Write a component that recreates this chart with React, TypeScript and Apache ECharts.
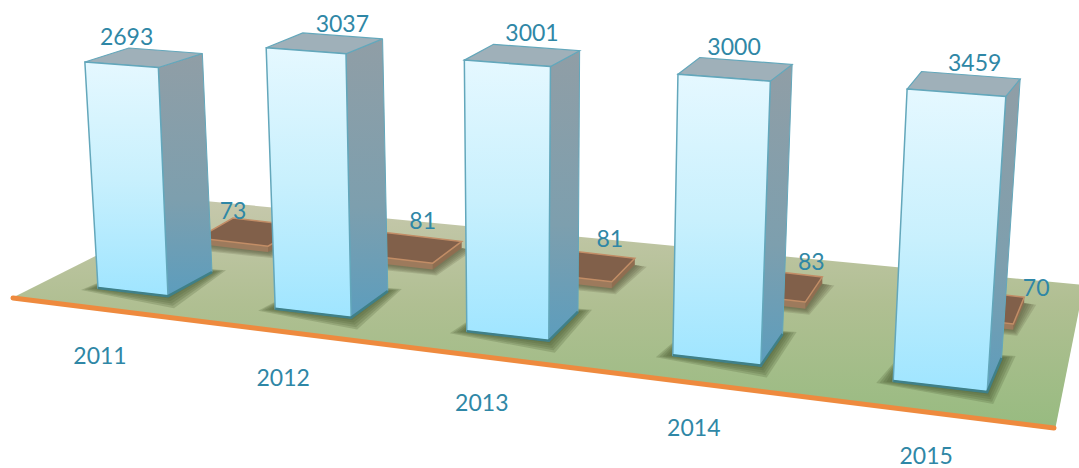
import React, { useEffect, useRef } from "react";
import * as echarts from "echarts";

const CATEGORIES = ["2011", "2012", "2013", "2014", "2015"];
const LARGE_VALUES = [2693, 3037, 3001, 3000, 3459];
const SMALL_VALUES = [73, 81, 81, 83, 70];

// The picture's perspective, applied on top of the axes' own scales.
const HEIGHT_FACTOR = [1.049, 1.074, 1.129, 1.171, 1.055];
const LARGE_LABEL_NUDGE = [-17, 18, 10, -1, 11];
const LARGE_LABEL_DY = [-12, -10, -12, -12, -9];
const CATEGORY_LABEL_DX = [2, 8, 15, 21, 33];
const SMALL_LABEL_DX = [-35, -10, -2, 6, 23];
const SMALL_LABEL_DY = [-36, -43, -44, -41, -37];

const TEXT = "#2f87a6";
const FONT = "Lato";
const FONT_SIZE = 23;

const warpX = (px: number, i: number) => px + 7.2 * i * i;
const baseY = (y0: number, x: number) => y0 + 0.117 * (x - 98);
const poly = (points: number[][], style: any, z2 = 0) => ({
  type: "polygon",
  shape: { points },
  style,
  z2,
  silent: true,
});
const vGrad = (stops: [number, string][]) =>
  new echarts.graphic.LinearGradient(
    0, 0, 0, 1,
    stops.map(([offset, color]) => ({ offset, color })),
  );
const label = (text: string, x: number, y: number) => ({
  type: "text",
  z2: 10,
  silent: true,
  style: {
    text, x, y,
    fill: TEXT,
    fontFamily: FONT,
    fontSize: FONT_SIZE,
    align: "center",
    verticalAlign: "middle",
  },
});

// Soft shadow: stacked translucent copies, each pushed out a bit further.
function softShadow(
  quad: number[][],
  reach: number[][],
  color: string,
  opacity: number,
) {
  return [1, 0.8, 0.6, 0.4, 0.2].map((k) =>
    poly(
      quad.map((p, n) => [p[0] + reach[n][0] * k, p[1] + reach[n][1] * k]),
      { fill: color, opacity },
      0,
    ),
  );
}

function frontBase(i: number, api: any) {
  const p = api.coord([i, 0]);
  const x = warpX(p[0], i);
  const y = baseY(p[1], x);
  const w = 70 + 6 * i;
  return { x, y, w, zero: p[1] };
}

function renderLarge(_: any, api: any) {
  const i = api.value(0);
  const v = api.value(1);
  const { x, y, w, zero } = frontBase(i, api);
  const h = (zero - api.coord([i, v])[1]) * HEIGHT_FACTOR[i];
  const lean = (x - 535) * 0.000133 * h;
  const wTop = w * 1.05;
  const bl = [x, y];
  const br = [x + w, y + 0.117 * w];
  const tl = [x + lean, y - h];
  const tr = [tl[0] + wTop, tl[1] + 0.075 * wTop];
  const dx = 44 - 7.4 * i;
  const dyTop = -14 - 0.9 * i;
  const dyBot = -24 - 2.5 * i;
  const tlb = [tl[0] + dx, tl[1] + dyTop];
  const trb = [tr[0] + dx, tr[1] + dyTop];
  const brb = [br[0] + dx, br[1] + dyBot];
  const blb = [bl[0] + dx, bl[1] + dyBot];
  const edge = "#63a7bb";
  return {
    type: "group",
    children: [
      ...softShadow(
        [bl, br, brb, blb],
        [
          [-17, 2],
          [6, 12],
          [14, -2],
          [0, 0],
        ],
        "#4f5f38",
        0.24,
      ),
      poly(
        [tr, trb, brb, br],
        {
          fill: vGrad([
            [0, "#909ea6"],
            [0.6, "#7d9fae"],
            [1, "#5c9dbd"],
          ]),
          stroke: edge,
          lineWidth: 1,
        },
        1,
      ),
      poly(
        [tl, tlb, trb, tr],
        { fill: "#9fb0b9", stroke: edge, lineWidth: 1.2 },
        2,
      ),
      poly(
        [tl, tr, br, bl],
        {
          fill: vGrad([
            [0, "#e5f8ff"],
            [0.5, "#c8f0fd"],
            [1, "#9fe5ff"],
          ]),
          stroke: edge,
          lineWidth: 1.5,
        },
        3,
      ),
      {
        type: "polyline",
        z2: 4,
        silent: true,
        shape: { points: [bl, br, brb] },
        style: { stroke: "#3f8088", lineWidth: 2.5, fill: "none" },
      },
      label(
        String(v),
        (tl[0] + tr[0] + tlb[0] + trb[0]) / 4 + LARGE_LABEL_NUDGE[i],
        Math.min(tlb[1], trb[1]) + LARGE_LABEL_DY[i],
      ),
      label(CATEGORIES[i], x + CATEGORY_LABEL_DX[i], y + 67 + 1.7 * i),
    ],
  };
}

function renderSmall(_: any, api: any) {
  const i = api.value(0);
  const v = api.value(1);
  const { x, y, w, zero } = frontBase(i, api);
  const h = zero - api.coord([i, v])[1];
  const brX = x + w;
  const brY = y + 0.117 * w;
  // front-right corner at floor level of the low bar, behind the big one
  const fr = [brX + 100 - 18.5 * i, brY - 50 - 4.5 * i + h];
  const sw = w;
  const fl = [fr[0] - sw, fr[1] - 0.117 * sw];
  const dx = 35 - 6 * i;
  const dy = -20 - 1.7 * i;
  const brk = [fr[0] + dx, fr[1] + dy];
  const blk = [fl[0] + dx, fl[1] + dy];
  const up = (p: number[]) => [p[0], p[1] - h];
  return {
    type: "group",
    children: [
      ...softShadow(
        [fl, fr, brk, blk],
        [
          [-6, 6],
          [4, 6],
          [12, 2],
          [0, 0],
        ],
        "#5a5a3c",
        0.2,
      ),
      poly([fr, brk, up(brk), up(fr)], { fill: "#8f6d50" }, 1),
      poly([fl, fr, up(fr), up(fl)], { fill: "#9d7a5c" }, 1),
      poly(
        [up(fl), up(fr), up(brk), up(blk)],
        { fill: "#81604a", stroke: "#c28d66", lineWidth: 1.5 },
        2,
      ),
      label(String(v), fr[0] + SMALL_LABEL_DX[i], fr[1] - h + SMALL_LABEL_DY[i]),
    ],
  };
}

export default function App() {
  const ref = useRef<HTMLDivElement>(null);
  useEffect(() => {
    document.body.style.margin = "0";
    const chart = echarts.init(ref.current!, null, { renderer: "svg" });
    chart.setOption({
      animation: false,
      backgroundColor: "#ffffff",
      grid: { left: 98, top: 0, width: 680, height: 288 },
      xAxis: { type: "category", data: CATEGORIES, boundaryGap: false, show: false },
      yAxis: { type: "value", min: 0, max: 3600, show: false },
      graphic: [
        {
          type: "polygon",
          z: 0,
          silent: true,
          shape: {
            points: [
              [12, 298],
              [1055, 430],
              [1084, 285],
              [205, 201],
            ],
          },
          style: {
            fill: vGrad([
              [0, "#c6c8ac"],
              [0.45, "#b0bf92"],
              [1, "#97bb80"],
            ]),
          },
        },
        {
          type: "polyline",
          z: 0,
          silent: true,
          shape: {
            points: [
              [13, 298],
              [1054, 428],
            ],
          },
          style: { stroke: "#ee8a3e", lineWidth: 5, lineCap: "round" },
        },
      ],
      series: [
        {
          type: "custom",
          z: 2,
          renderItem: renderSmall,
          data: SMALL_VALUES.map((v, i) => [i, v]),
          encode: { x: 0, y: 1 },
        },
        {
          type: "custom",
          z: 3,
          renderItem: renderLarge,
          data: LARGE_VALUES.map((v, i) => [i, v]),
          encode: { x: 0, y: 1 },
        },
      ],
    });
    return () => chart.dispose();
  }, []);
  return <div ref={ref} style={{ width: 1079, height: 468 }} />;
}
